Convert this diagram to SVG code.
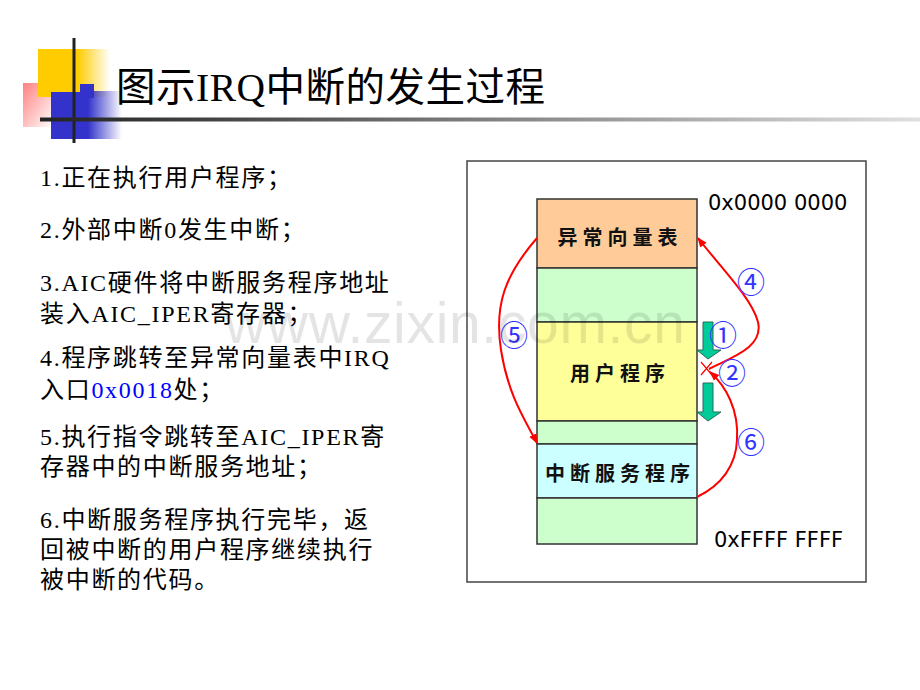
<svg xmlns="http://www.w3.org/2000/svg" width="920" height="690" viewBox="0 0 920 690">
<defs>
<style>
.t{font-family:"Liberation Serif","Noto Sans CJK SC",serif;font-size:24px;fill:#000;letter-spacing:1.7px}
.lbl{font-family:"Noto Sans CJK SC","Noto Sans CJK TC",sans-serif;font-size:20px;font-weight:bold;fill:#111;text-anchor:middle;letter-spacing:5px}
.addr{font-family:"DejaVu Sans","Noto Sans",sans-serif;font-size:21px;fill:#000}
.num{font-family:"Noto Sans CJK SC","DejaVu Sans",sans-serif;font-size:28px;fill:#3333ff;text-anchor:middle}
.mem{stroke:#333;stroke-width:1.5}
.red{fill:none;stroke:#ff0000;stroke-width:2}
.garrow{fill:#00cc99;stroke:#2b6b55;stroke-width:1}
</style>
<linearGradient id="gy" x1="0" y1="0" x2="1" y2="0">
<stop offset="0" stop-color="#ffcc00"/><stop offset="0.55" stop-color="#ffcc00"/><stop offset="1" stop-color="#ffcc00" stop-opacity="0"/>
</linearGradient>
<linearGradient id="gp" x1="0" y1="0" x2="1" y2="1">
<stop offset="0" stop-color="#ff8080"/><stop offset="1" stop-color="#ff8080" stop-opacity="0"/>
</linearGradient>
<linearGradient id="gb" x1="0" y1="0" x2="1" y2="0">
<stop offset="0" stop-color="#3333cc"/><stop offset="1" stop-color="#3333cc" stop-opacity="0"/>
</linearGradient>
<linearGradient id="gl" x1="0" y1="0" x2="1" y2="0">
<stop offset="0" stop-color="#222"/><stop offset="0.2" stop-color="#444"/><stop offset="1" stop-color="#e0e0e0"/>
</linearGradient>
<marker id="ah" viewBox="0 0 10 10" refX="9" refY="5" markerWidth="10" markerHeight="10" markerUnits="userSpaceOnUse" orient="auto">
<path d="M0,1 L10,5 L0,9 z" fill="#ff0000"/>
</marker>
</defs>

<g id="logo">
<rect x="23" y="83" width="30" height="44" fill="url(#gp)"/>
<rect x="38" y="49" width="72" height="48" fill="url(#gy)"/>
<rect x="88" y="91" width="34" height="48" fill="url(#gb)"/>
<rect x="51" y="92" width="37" height="47" fill="#3333cc"/>
<rect x="80" y="84" width="14" height="14" fill="#3333cc"/>
<rect x="72.5" y="38" width="3" height="105" fill="#222"/>
<rect x="40" y="117.5" width="880" height="4" fill="url(#gl)"/>
</g>

<g id="title">
<text x="116" y="101" style="font-family:'Liberation Serif','Noto Sans CJK SC',serif;font-size:39.5px;fill:#000;letter-spacing:0.5px">图示IRQ中断的发生过程</text>
</g>

<g id="steps">
<text class="t" x="40" y="186">1.正在执行用户程序；</text>
<text class="t" x="40" y="238">2.外部中断0发生中断；</text>
<text class="t" x="40" y="291">3.AIC硬件将中断服务程序地址</text>
<text class="t" x="40" y="322">装入AIC_IPER寄存器；</text>
<text class="t" x="40" y="366">4.程序跳转至异常向量表中IRQ</text>
<text class="t" x="40" y="398">入口<tspan fill="#0000ff">0x0018</tspan>处；</text>
<text class="t" x="40" y="445">5.执行指令跳转至AIC_IPER寄</text>
<text class="t" x="40" y="475">存器中的中断服务地址；</text>
<text class="t" x="40" y="528">6.中断服务程序执行完毕，返</text>
<text class="t" x="40" y="558">回被中断的用户程序继续执行</text>
<text class="t" x="40" y="588">被中断的代码。</text>
</g>

<g id="frame">
<rect x="467" y="161" width="399" height="421" fill="none" stroke="#444" stroke-width="1.5"/>
</g>

<g id="memory">
<g id="vector-table">
<rect class="mem" x="537" y="199" width="160" height="69" fill="#ffcc99"/>
<text class="lbl" x="620" y="245">异常向量表</text>
</g>
<rect class="mem" x="537" y="268" width="160" height="54" fill="#ccffcc"/>
<g id="user-program">
<rect class="mem" x="537" y="322" width="160" height="99" fill="#ffff99"/>
<text class="lbl" x="620" y="381">用户程序</text>
</g>
<rect class="mem" x="537" y="421" width="160" height="23" fill="#ccffcc"/>
<g id="isr">
<rect class="mem" x="537" y="444" width="160" height="54" fill="#ccffff"/>
<text class="lbl" x="620" y="481">中断服务程序</text>
</g>
<rect class="mem" x="537" y="498" width="160" height="46" fill="#ccffcc"/>
</g>

<g id="addresses">
<text class="addr" x="708" y="210">0x0000 0000</text>
<text class="addr" x="714" y="547">0xFFFF FFFF</text>
</g>

<g id="connectors">
<path class="garrow" d="M703,322 L713,322 L713,350 L721,350 L708,359 L697,350 L703,350 z"/>
<path class="garrow" d="M703,383 L713,383 L713,412 L721,412 L708,421 L697,412 L703,412 z"/>
<path d="M701,362 L712,375 M701,375 L712,362" stroke="#ff0000" stroke-width="1.2" fill="none"/>
<path class="red" d="M709,369 C730,358 764,348 758,322 C752,298 716,262 698,238" marker-end="url(#ah)"/>
<path class="red" d="M537,238 C505,275 494,305 501,350 C508,395 525,420 537,443" marker-end="url(#ah)"/>
<path class="red" d="M697,497 C722,485 736,465 737,440 C739,410 726,386 710,372" marker-end="url(#ah)"/>
</g>

<g id="labels">
<text class="num" x="723" y="346">①</text>
<text class="num" x="732" y="384">②</text>
<text class="num" x="751" y="293">④</text>
<text class="num" x="514" y="346">⑤</text>
<text class="num" x="751" y="453">⑥</text>
</g>

<g id="watermark">
<text x="225" y="343" textLength="460" style="font-family:'Liberation Sans',sans-serif;font-size:57px;fill:#000;opacity:0.1">www.zixin.com.cn</text>
</g>
</svg>
